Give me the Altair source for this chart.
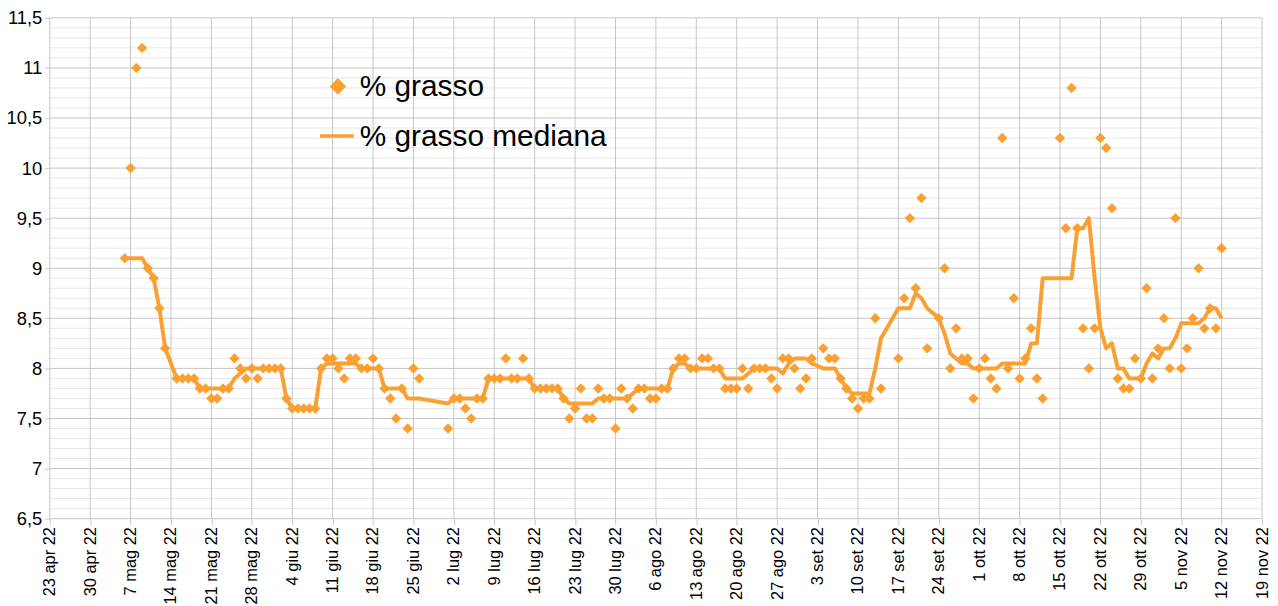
import altair as alt
import pandas as pd

# ---- data ----
dates = [
    "2022-05-06", "2022-05-07", "2022-05-08", "2022-05-09", "2022-05-10", "2022-05-11", "2022-05-12", "2022-05-13",
    "2022-05-15", "2022-05-16", "2022-05-17", "2022-05-18", "2022-05-19", "2022-05-20", "2022-05-21", "2022-05-22",
    "2022-05-23", "2022-05-24", "2022-05-25", "2022-05-26", "2022-05-27", "2022-05-28", "2022-05-29", "2022-05-30",
    "2022-05-31", "2022-06-01", "2022-06-02", "2022-06-03", "2022-06-04", "2022-06-05", "2022-06-06", "2022-06-07",
    "2022-06-08", "2022-06-09", "2022-06-10", "2022-06-11", "2022-06-12", "2022-06-13", "2022-06-14", "2022-06-15",
    "2022-06-16", "2022-06-17", "2022-06-18", "2022-06-19", "2022-06-20", "2022-06-21", "2022-06-22", "2022-06-23",
    "2022-06-24", "2022-06-25", "2022-06-26",
    "2022-07-01", "2022-07-02", "2022-07-03", "2022-07-04", "2022-07-05", "2022-07-06", "2022-07-07", "2022-07-08",
    "2022-07-09", "2022-07-10", "2022-07-11", "2022-07-12", "2022-07-13", "2022-07-14", "2022-07-15", "2022-07-16",
    "2022-07-17", "2022-07-18", "2022-07-19", "2022-07-20", "2022-07-21", "2022-07-22", "2022-07-23", "2022-07-24",
    "2022-07-25", "2022-07-26", "2022-07-27", "2022-07-28", "2022-07-29", "2022-07-30", "2022-07-31",
    "2022-08-01", "2022-08-02", "2022-08-03", "2022-08-04", "2022-08-05", "2022-08-06", "2022-08-07", "2022-08-08",
    "2022-08-09", "2022-08-10", "2022-08-11", "2022-08-12", "2022-08-13", "2022-08-14", "2022-08-15", "2022-08-16",
    "2022-08-17", "2022-08-18", "2022-08-19", "2022-08-20", "2022-08-21", "2022-08-22", "2022-08-23", "2022-08-24",
    "2022-08-25", "2022-08-26", "2022-08-27", "2022-08-28", "2022-08-29", "2022-08-30", "2022-08-31",
    "2022-09-01", "2022-09-02", "2022-09-04", "2022-09-05", "2022-09-06", "2022-09-07", "2022-09-08", "2022-09-09",
    "2022-09-10", "2022-09-11", "2022-09-12", "2022-09-13", "2022-09-14", "2022-09-17", "2022-09-18", "2022-09-19",
    "2022-09-20", "2022-09-21", "2022-09-22", "2022-09-24", "2022-09-25", "2022-09-26", "2022-09-27", "2022-09-28",
    "2022-09-29", "2022-09-30",
    "2022-10-01", "2022-10-02", "2022-10-03", "2022-10-04", "2022-10-05", "2022-10-06", "2022-10-07", "2022-10-08",
    "2022-10-09", "2022-10-10", "2022-10-11", "2022-10-12", "2022-10-15", "2022-10-16", "2022-10-17", "2022-10-18",
    "2022-10-19", "2022-10-20", "2022-10-21", "2022-10-22", "2022-10-23", "2022-10-24", "2022-10-25", "2022-10-26",
    "2022-10-27", "2022-10-28", "2022-10-29", "2022-10-30", "2022-10-31",
    "2022-11-01", "2022-11-02", "2022-11-03", "2022-11-04", "2022-11-05", "2022-11-06", "2022-11-07", "2022-11-08",
    "2022-11-09", "2022-11-10", "2022-11-11", "2022-11-12",
]

grasso = [
    9.1, 10.0, 11.0, 11.2, 9.0, 8.9, 8.6, 8.2,
    7.9, 7.9, 7.9, 7.9, 7.8, 7.8, 7.7, 7.7,
    7.8, 7.8, 8.1, 8.0, 7.9, 8.0, 7.9, 8.0,
    8.0, 8.0, 8.0, 7.7, 7.6, 7.6, 7.6, 7.6,
    7.6, 8.0, 8.1, 8.1, 8.0, 7.9, 8.1, 8.1,
    8.0, 8.0, 8.1, 8.0, 7.8, 7.7, 7.5, 7.8,
    7.4, 8.0, 7.9,
    7.4, 7.7, 7.7, 7.6, 7.5, 7.7, 7.7, 7.9,
    7.9, 7.9, 8.1, 7.9, 7.9, 8.1, 7.9, 7.8,
    7.8, 7.8, 7.8, 7.8, 7.7, 7.5, 7.6, 7.8,
    7.5, 7.5, 7.8, 7.7, 7.7, 7.4, 7.8,
    7.7, 7.6, 7.8, 7.8, 7.7, 7.7, 7.8, 7.8,
    8.0, 8.1, 8.1, 8.0, 8.0, 8.1, 8.1, 8.0,
    8.0, 7.8, 7.8, 7.8, 8.0, 7.8, 8.0, 8.0,
    8.0, 7.9, 7.8, 8.1, 8.1, 8.0, 7.8,
    7.9, 8.1, 8.2, 8.1, 8.1, 7.9, 7.8, 7.7,
    7.6, 7.7, 7.7, 8.5, 7.8, 8.1, 8.7, 9.5,
    8.8, 9.7, 8.2, 8.5, 9.0, 8.0, 8.4, 8.1,
    8.1, 7.7,
    8.0, 8.1, 7.9, 7.8, 10.3, 8.0, 8.7, 7.9,
    8.1, 8.4, 7.9, 7.7, 10.3, 9.4, 10.8, 9.4,
    8.4, 8.0, 8.4, 10.3, 10.2, 9.6, 7.9, 7.8,
    7.8, 8.1, 7.9, 8.8, 7.9,
    8.2, 8.5, 8.0, 9.5, 8.0, 8.2, 8.5, 9.0,
    8.4, 8.6, 8.4, 9.2,
]

mediana = [
    9.1, 9.1, 9.1, 9.1, 9.0, 8.9, 8.6, 8.2,
    7.9, 7.9, 7.9, 7.9, 7.8, 7.8, 7.8, 7.8,
    7.8, 7.8, 7.9, 7.95, 8.0, 8.0, 8.0, 8.0,
    8.0, 8.0, 8.0, 7.7, 7.6, 7.6, 7.6, 7.6,
    7.6, 8.0, 8.05, 8.05, 8.05, 8.05, 8.05, 8.05,
    8.0, 8.0, 8.0, 8.0, 7.8, 7.8, 7.8, 7.8,
    7.7, 7.7, 7.7,
    7.65, 7.7, 7.7, 7.7, 7.7, 7.7, 7.7, 7.9,
    7.9, 7.9, 7.9, 7.9, 7.9, 7.9, 7.9, 7.8,
    7.8, 7.8, 7.8, 7.8, 7.7, 7.65, 7.65, 7.65,
    7.65, 7.65, 7.7, 7.7, 7.7, 7.7, 7.7,
    7.7, 7.75, 7.8, 7.8, 7.8, 7.8, 7.8, 7.8,
    8.0, 8.05, 8.05, 8.0, 8.0, 8.0, 8.0, 8.0,
    8.0, 7.9, 7.9, 7.9, 7.9, 7.95, 8.0, 8.0,
    8.0, 8.0, 8.0, 7.95, 8.05, 8.1, 8.1,
    8.1, 8.05, 8.0, 8.0, 8.0, 7.9, 7.8, 7.75,
    7.75, 7.75, 7.75, 8.0, 8.3, 8.6, 8.6, 8.6,
    8.75, 8.7, 8.6, 8.5, 8.35, 8.15, 8.1, 8.05,
    8.05, 8.0,
    8.0, 8.0, 8.0, 8.0, 8.05, 8.05, 8.05, 8.05,
    8.05, 8.25, 8.25, 8.9, 8.9, 8.9, 8.9, 9.4,
    9.4, 9.5, 8.9, 8.4, 8.2, 8.25, 8.0, 8.0,
    7.9, 7.9, 7.9, 8.05, 8.15,
    8.1, 8.2, 8.2, 8.3, 8.45, 8.45, 8.45, 8.45,
    8.5, 8.6, 8.6, 8.5,
]

y_ticks = [6.5, 7.0, 7.5, 8.0, 8.5, 9.0, 9.5, 10.0, 10.5, 11.0, 11.5]
y_minor = [round(6.5 + 0.1 * i, 1) for i in range(51) if i % 5]
x_tick_dates = pd.date_range("2022-04-23", "2022-11-19", freq="7D")
x_ticks = [int(t.value // 10**6) for t in x_tick_dates]
month_names = ["gen", "feb", "mar", "apr", "mag", "giu", "lug", "ago", "set", "ott", "nov", "dic"]

legend_labels = ["% grasso", "% grasso mediana"]

# ---- styling ----
ORANGE = "#FAA033"
GRID = "#c6c6c6"
MINOR = "#e6e6e6"
FONT = "Liberation Sans"
W, H = 1220, 504

df = pd.DataFrame({"data": dates, "grasso": grasso, "mediana": mediana})

xscale = alt.Scale(type="utc", domain=[x_ticks[0], x_ticks[-1]], nice=False)
yscale = alt.Scale(domain=[6.5, 11.5], nice=False, zero=False)

month_arr = "[" + ",".join("'%s'" % m for m in month_names) + "]"
x_label_expr = ("utcdate(datum.value) + ' ' + " + month_arr +
                "[utcmonth(datum.value)] + ' ' + utcFormat(datum.value, '%y')")

x_axis = alt.Axis(values=x_ticks, labelExpr=x_label_expr, labelAngle=-90, grid=False,
                  domain=False, ticks=True, tickColor=GRID, tickSize=6, labelPadding=2,
                  labelFont=FONT, labelFontSize=16.5, labelColor="black", title=None)
y_axis = alt.Axis(values=y_ticks, labelExpr="replace(toString(datum.value), '.', ',')",
                  grid=False, domain=False, ticks=True, tickColor=GRID, tickSize=5,
                  labelPadding=3, labelFont=FONT, labelFontSize=18.5, labelColor="black",
                  title=None)

minor_grid = alt.Chart(pd.DataFrame({"v": y_minor})).mark_rule(
    color=MINOR, strokeWidth=1).encode(y=alt.Y("v:Q", scale=yscale, axis=y_axis))

major_h = alt.Chart(pd.DataFrame({"v": y_ticks})).mark_rule(
    color=GRID, strokeWidth=1).encode(y=alt.Y("v:Q", scale=yscale, axis=y_axis))

major_v = alt.Chart(pd.DataFrame({"t": x_ticks})).mark_rule(
    color=GRID, strokeWidth=1).encode(x=alt.X("t:T", scale=xscale, axis=x_axis))

base = alt.Chart(df)
line = base.mark_line(color=ORANGE, strokeWidth=4, strokeJoin="round").encode(
    x=alt.X("data:T", scale=xscale, axis=x_axis),
    y=alt.Y("mediana:Q", scale=yscale, axis=y_axis),
)
points = base.mark_point(shape="diamond", filled=True, size=110, color=ORANGE, opacity=1).encode(
    x=alt.X("data:T", scale=xscale, axis=x_axis),
    y=alt.Y("grasso:Q", scale=yscale, axis=y_axis),
)

one = pd.DataFrame({"a": [0]})
leg_pt = alt.Chart(one).mark_point(shape="diamond", filled=True, size=280, color=ORANGE,
                                   opacity=1).encode(x=alt.value(290), y=alt.value(69))
leg_txt1 = alt.Chart(one).mark_text(text=legend_labels[0], align="left", baseline="middle",
                                    font=FONT, fontSize=30, color="black").encode(
    x=alt.value(312), y=alt.value(70))
leg_ln = alt.Chart(one).mark_rule(color=ORANGE, strokeWidth=3.5).encode(
    x=alt.value(272), x2=alt.value(306), y=alt.value(119))
leg_txt2 = alt.Chart(one).mark_text(text=legend_labels[1], align="left", baseline="middle",
                                    font=FONT, fontSize=30, color="black").encode(
    x=alt.value(312), y=alt.value(120))

chart = alt.layer(
    minor_grid, major_h, major_v, line, points, leg_pt, leg_txt1, leg_ln, leg_txt2
).properties(
    width=W, height=H,
    autosize=alt.AutoSizeParams(type="none"),
    padding={"left": 42, "top": 8, "right": 8, "bottom": 84},
    background="white",
).configure_view(stroke=None)

chart.save("out.html", embed_options={"renderer": "svg", "actions": False})
